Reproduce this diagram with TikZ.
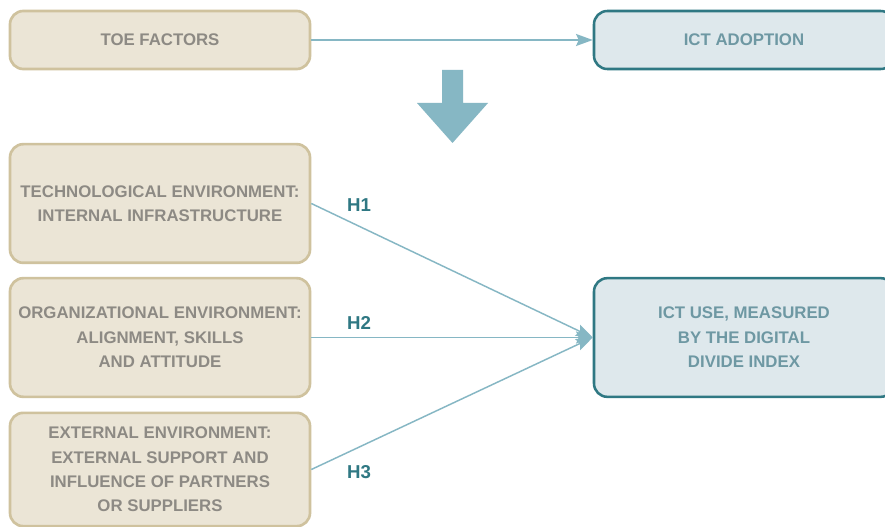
\documentclass[tikz,border=0pt]{standalone}
\usepackage{fontspec}
\setmainfont{Liberation Sans}
\usepackage{tikz}
\usetikzlibrary{arrows.meta,positioning}
\usepackage{xcolor}
\definecolor{TOEfill}{HTML}{EBE5D6}
\definecolor{TOEline}{HTML}{CFC29E}
\definecolor{TOEtext}{HTML}{8D8A84}
\definecolor{ICTfill}{HTML}{DEE8EC}
\definecolor{ICTline}{HTML}{2F7883}
\definecolor{ICTtext}{HTML}{6E98A3}
\definecolor{linkblue}{HTML}{86B7C4}

\begin{document}
\begin{tikzpicture}[x=0.75pt, y=-0.75pt,
    factorbox/.style={draw=TOEline, fill=TOEfill, line width=2pt, rounded corners=10pt,
        minimum width=225pt, align=center, text=TOEtext,
        font=\fontsize{12.6}{18.3}\selectfont\bfseries},
    ictbox/.style={draw=ICTline, fill=ICTfill, line width=1.9pt, rounded corners=10pt,
        minimum width=225pt, align=center, text=ICTtext,
        font=\fontsize{12.6}{18.3}\selectfont\bfseries},
    link/.style={draw=linkblue, line width=1.1pt,
        -{Stealth[length=12.5pt, width=9pt, inset=2pt]}},
    hlabel/.style={text=ICTline, font=\fontsize{14}{16}\selectfont\bfseries}]
    \clip (0,0) rectangle (885,527);
    \fill[white] (0,0) rectangle (885,527);

    % Top row
    \node[factorbox, minimum height=43.5pt] (toe) at (160,40) {TOE FACTORS};
    \node[ictbox, minimum height=43.5pt] (adopt) at (744,40) {ICT ADOPTION};
    \draw[link] (toe.east) -- (adopt.west);

    % Big arrow
    \fill[linkblue] (442,70) -- (463,70) -- (463,103) -- (488,103) -- (452.5,143)
        -- (417,103) -- (442,103) -- cycle;

    % Factors
    \node[factorbox, minimum height=89pt] (tech) at (160,203.5)
        {TECHNOLOGICAL ENVIRONMENT:\\INTERNAL INFRASTRUCTURE};
    \node[factorbox, minimum height=89pt] (org) at (160,337.5)
        {ORGANIZATIONAL ENVIRONMENT:\\ALIGNMENT, SKILLS\\AND ATTITUDE};
    \node[factorbox, minimum height=85pt] (ext) at (160,469.5)
        {EXTERNAL ENVIRONMENT:\\EXTERNAL SUPPORT AND\\INFLUENCE OF PARTNERS\\OR SUPPLIERS};
    \node[ictbox, minimum height=89pt] (use) at (744,337.5)
        {ICT USE, MEASURED\\BY THE DIGITAL\\DIVIDE INDEX};

    % Hypotheses
    \draw[link] (tech.east) -- (use.west);
    \draw[link] (org.east) -- (use.west);
    \draw[link] (ext.east) -- (use.west);
    \node[hlabel] (h1) at (359,205) {H1};
    \node[hlabel] (h2) at (359,322.5) {H2};
    \node[hlabel] (h3) at (359,472.5) {H3};
\end{tikzpicture}
\end{document}
